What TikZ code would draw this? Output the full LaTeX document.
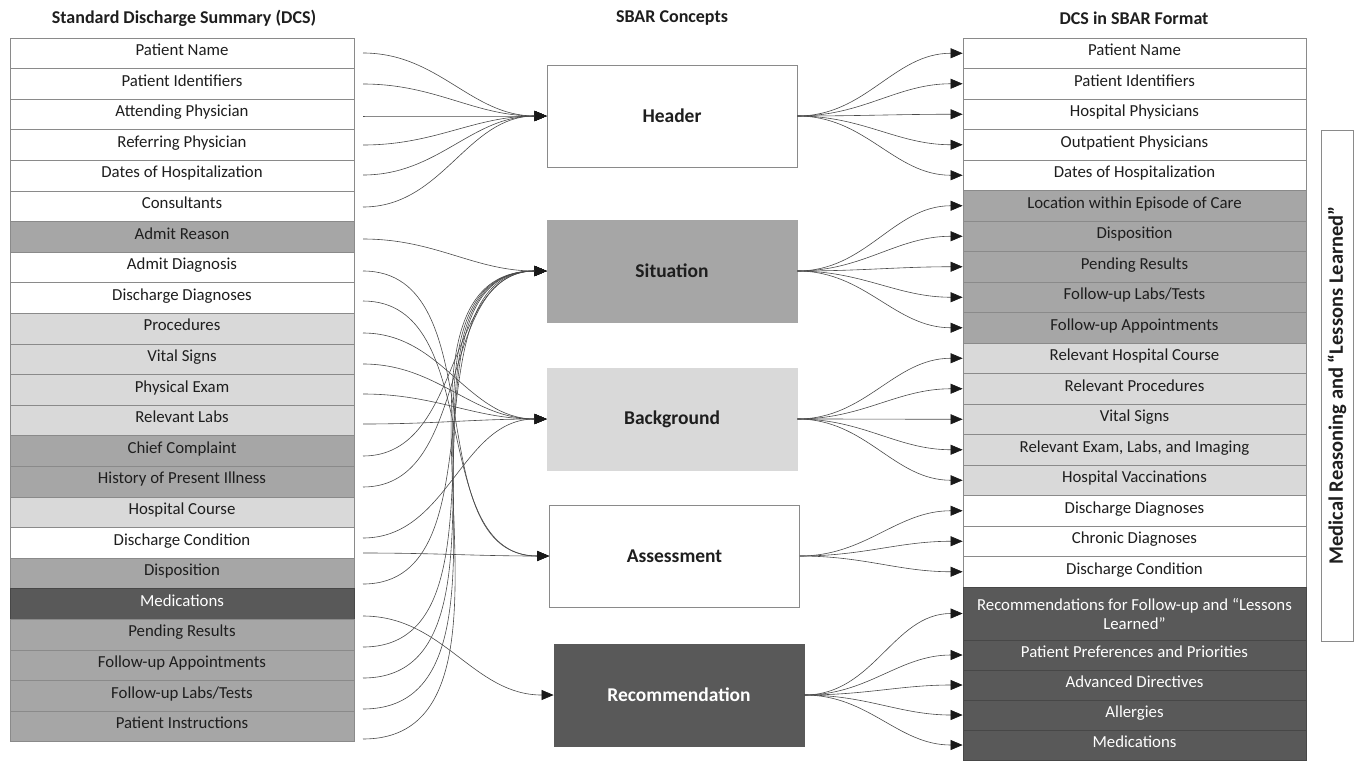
\documentclass[tikz,border=0pt]{standalone}
\usepackage{fontspec}
\setmainfont{Carlito}
\usetikzlibrary{arrows.meta}
\definecolor{midg}{HTML}{A6A6A6}
\definecolor{lightg}{HTML}{D9D9D9}
\definecolor{darkg}{HTML}{595959}
\definecolor{edgeg}{HTML}{8A8A8A}
\definecolor{linkg}{HTML}{4A4A4A}
\definecolor{txt}{HTML}{1E1E1E}
\tikzset{
  rowbox/.style={draw=edgeg, line width=0.8pt, inner sep=0pt, minimum height=30.6, text=txt,
    font=\fontsize{16.8}{19}\selectfont, text height=11.5, text depth=7},
  lrow/.style={rowbox, minimum width=344},
  rrow/.style={rowbox, minimum width=343},
  darkrow/.style={fill=darkg, text=white, draw=darkg!80!black},
  ttl/.style={font=\bfseries\fontsize{18}{21}\selectfont, text=txt, inner sep=0pt},
  sbar/.style={minimum width=250, minimum height=102, inner sep=0pt, line width=0.8pt,
    font=\bfseries\fontsize{19.5}{22}\selectfont, text=txt},
  link/.style={draw=linkg, line width=0.6pt, -{Triangle[length=12pt,width=10pt,color=black!90]}},
}
\begin{document}
\begin{tikzpicture}[x=1pt,y=-1pt]
\fill[white] (0,0) rectangle (1358,761);
\useasboundingbox (0,0) rectangle (1358,761);

% titles
\node[ttl] (t1) at (184,18) {Standard Discharge Summary (DCS)};
\node[ttl] (t2) at (672,18) {SBAR Concepts};
\node[ttl] (t3) at (1134,18) {DCS in SBAR Format};

% left column
\node[lrow, fill=white]  (L1)  at (182,53.3)  {Patient Name};
\node[lrow, fill=white]  (L2)  at (182,83.9)  {Patient Identifiers};
\node[lrow, fill=white]  (L3)  at (182,114.5) {Attending Physician};
\node[lrow, fill=white]  (L4)  at (182,145.1) {Referring Physician};
\node[lrow, fill=white]  (L5)  at (182,175.7) {Dates of Hospitalization};
\node[lrow, fill=white]  (L6)  at (182,206.3) {Consultants};
\node[lrow, fill=midg]   (L7)  at (182,236.9) {Admit Reason};
\node[lrow, fill=white]  (L8)  at (182,267.5) {Admit Diagnosis};
\node[lrow, fill=white]  (L9)  at (182,298.1) {Discharge Diagnoses};
\node[lrow, fill=lightg] (L10) at (182,328.7) {Procedures};
\node[lrow, fill=lightg] (L11) at (182,359.3) {Vital Signs};
\node[lrow, fill=lightg] (L12) at (182,389.9) {Physical Exam};
\node[lrow, fill=lightg] (L13) at (182,420.5) {Relevant Labs};
\node[lrow, fill=midg]   (L14) at (182,451.1) {Chief Complaint};
\node[lrow, fill=midg]   (L15) at (182,481.7) {History of Present Illness};
\node[lrow, fill=lightg] (L16) at (182,512.3) {Hospital Course};
\node[lrow, fill=white]  (L17) at (182,542.9) {Discharge Condition};
\node[lrow, fill=midg]   (L18) at (182,573.5) {Disposition};
\node[lrow, darkrow]     (L19) at (182,604.1) {Medications};
\node[lrow, fill=midg]   (L20) at (182,634.7) {Pending Results};
\node[lrow, fill=midg]   (L21) at (182,665.3) {Follow-up Appointments};
\node[lrow, fill=midg]   (L22) at (182,695.9) {Follow-up Labs/Tests};
\node[lrow, fill=midg]   (L23) at (182,726.5) {Patient Instructions};

% SBAR boxes
\node[sbar, draw=edgeg, fill=white]       (H)  at (672,116)   {Header};
\node[sbar, draw=midg, fill=midg]         (S)  at (672,271)   {Situation};
\node[sbar, draw=lightg, fill=lightg]     (B)  at (672,419)   {Background};
\node[sbar, draw=edgeg, fill=white]       (A)  at (674.5,556) {Assessment};
\node[sbar, draw=darkg, fill=darkg, text=white] (Rc) at (679,695) {Recommendation};

% right column
\node[rrow, fill=white]  (R1)  at (1134.5,53.25)  {Patient Name};
\node[rrow, fill=white]  (R2)  at (1134.5,83.75)  {Patient Identifiers};
\node[rrow, fill=white]  (R3)  at (1134.5,114.25) {Hospital Physicians};
\node[rrow, fill=white]  (R4)  at (1134.5,144.75) {Outpatient Physicians};
\node[rrow, fill=white]  (R5)  at (1134.5,175.25) {Dates of Hospitalization};
\node[rrow, fill=midg]   (R6)  at (1134.5,205.75) {Location within Episode of Care};
\node[rrow, fill=midg]   (R7)  at (1134.5,236.25) {Disposition};
\node[rrow, fill=midg]   (R8)  at (1134.5,266.75) {Pending Results};
\node[rrow, fill=midg]   (R9)  at (1134.5,297.25) {Follow-up Labs/Tests};
\node[rrow, fill=midg]   (R10) at (1134.5,327.75) {Follow-up Appointments};
\node[rrow, fill=lightg] (R11) at (1134.5,358.25) {Relevant Hospital Course};
\node[rrow, fill=lightg] (R12) at (1134.5,388.75) {Relevant Procedures};
\node[rrow, fill=lightg] (R13) at (1134.5,419.25) {Vital Signs};
\node[rrow, fill=lightg] (R14) at (1134.5,449.75) {Relevant Exam, Labs, and Imaging};
\node[rrow, fill=lightg] (R15) at (1134.5,480.25) {Hospital Vaccinations};
\node[rrow, fill=white]  (R16) at (1134.5,510.75) {Discharge Diagnoses};
\node[rrow, fill=white]  (R17) at (1134.5,541.25) {Chronic Diagnoses};
\node[rrow, fill=white]  (R18) at (1134.5,571.75) {Discharge Condition};
\node[draw=darkg!80!black, fill=darkg, text=white, line width=0.8pt, inner sep=0pt,
      minimum width=343, minimum height=53, align=center,
      font=\fontsize{16.8}{19}\selectfont] (R19) at (1134.5,613.5)
      {Recommendations for Follow-up and “Lessons\\Learned”};
\node[rrow, darkrow, minimum height=30] (R20) at (1134.5,655) {Patient Preferences and Priorities};
\node[rrow, darkrow, minimum height=30] (R21) at (1134.5,685) {Advanced Directives};
\node[rrow, darkrow, minimum height=30] (R22) at (1134.5,715) {Allergies};
\node[rrow, darkrow, minimum height=30] (R23) at (1134.5,745) {Medications};

% vertical label
\node[draw=edgeg, fill=white, line width=0.8pt, rotate=90, minimum width=511, minimum height=32,
      inner sep=0pt, font=\bfseries\fontsize{20.5}{23}\selectfont, text=txt] (V) at (1337,385.5)
      {Medical Reasoning and “Lessons Learned”};

% left connectors
\foreach \i/\y/\t in {1/53/H, 2/84/H, 3/116/H, 4/145/H, 5/175/H, 6/207/H,
    7/239/S, 8/271/A, 9/301/A, 10/333/B, 11/364/B, 12/394/B, 13/424/B,
    14/456/S, 15/487/S, 16/538/B, 17/553/A, 18/584/S, 19/616/Rc,
    20/647/S, 21/678/S, 22/709/S, 23/739/S} {
  \coordinate (s\i) at (363,\y);
  \draw[link] (s\i) to[out=0,in=180] (\t.west);
}

% right connectors
\foreach \t/\r in {H/1, H/2, H/3, H/4, H/5, S/6, S/7, S/8, S/9, S/10,
    B/11, B/12, B/13, B/14, B/15, A/16, A/17, A/18,
    Rc/19, Rc/20, Rc/21, Rc/22, Rc/23} {
  \draw[link] (\t.east) to[out=0,in=180] (R\r.west);
}
\end{tikzpicture}
\end{document}
